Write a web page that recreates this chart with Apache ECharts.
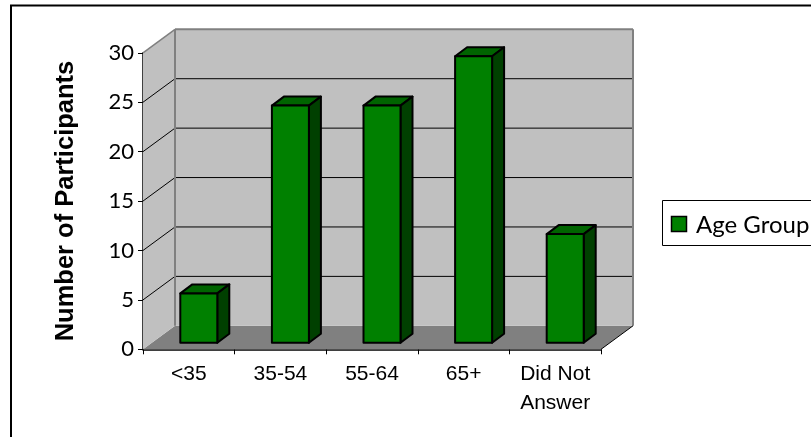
<!DOCTYPE html>
<html><head><meta charset="utf-8">
<style>html,body{margin:0;padding:0;background:#fff}#c{width:811px;height:437px}</style>
<script src="https://cdn.jsdelivr.net/npm/echarts@6/dist/echarts.min.js"></script>
</head><body><div id="c"></div>
<script>
const categories = ['<35','35-54','55-64','65+','Did Not\nAnswer'];
const ageGroup = [5,24,24,29,11];
const yTicks = [0,5,10,15,20,25,30];
const seriesName = 'Age Group';
const yTitle = 'Number of Participants';

const DX=32, DY=-23.5;      // wall depth
const BX=10, BY=-6.5;       // bar front plane offset
const DBX=12, DBY=-9;       // bar depth
const BW=37;

const chart = echarts.init(document.getElementById('c'),null,{renderer:'canvas'});
function poly(pts,fill,stroke,lw){return {type:'polygon',shape:{points:pts},style:{fill:fill,stroke:stroke||null,lineWidth:lw||0,lineJoin:'round'}};}
function line(x1,y1,x2,y2,c,lw){return {type:'line',shape:{x1,y1,x2,y2},style:{stroke:c,lineWidth:lw}};}

function renderWalls(params,api){
  const a=api.coord([0,0]), w=api.size([1,0])[0];
  const x0=a[0]-w/2, x1=x0+w*categories.length, y0=a[1], y1=api.coord([0,30])[1];
  const ch=[];
  ch.push(poly([[x0+DX,y0+DY],[x1+DX,y0+DY],[x1,y0],[x0,y0]],'#808080'));
  ch.push(poly([[x0,y0],[x0+DX,y0+DY],[x0+DX,y1+DY],[x0,y1]],'#c0c0c0'));
  ch.push(poly([[x0+DX,y0+DY],[x1+DX,y0+DY],[x1+DX,y1+DY],[x0+DX,y1+DY]],'#c0c0c0'));
  yTicks.slice(1,-1).forEach(t=>{
    const y=api.coord([0,t])[1];
    ch.push(line(x0,y,x0+DX,y+DY,'#000',1));
    ch.push(line(x0+DX,y+DY,x1+DX,y+DY,'#000',1));
  });
  ch.push(line(x0,y1,x0+DX,y1+DY,'#808080',1.5));
  ch.push(line(x0+DX,y1+DY,x1+DX,y1+DY,'#808080',2));
  ch.push(line(x1+DX,y1+DY,x1+DX,y0+DY,'#808080',2));
  ch.push(line(x0+DX,y1+DY,x0+DX,y0+DY,'#808080',2));
  ch.push(line(x1,y0,x1+DX,y0+DY,'#000',1));
  return {type:'group',children:ch,silent:true};
}
function renderBar(params,api){
  const c=api.coord([api.value(0),api.value(1)]), b=api.coord([api.value(0),0]);
  const l=c[0]+BX-BW/2, r=l+BW, t=c[1]+BY, bt=b[1]+BY;
  const s='#000', lw=2;
  return {type:'group',children:[
    poly([[l,t],[r,t],[r+DBX,t+DBY],[l+DBX,t+DBY]],'#006400',s,lw),
    poly([[r,t],[r+DBX,t+DBY],[r+DBX,bt+DBY],[r,bt]],'#004000',s,lw),
    poly([[l,t],[r,t],[r,bt],[l,bt]],'#008000',s,lw)
  ]};
}
chart.setOption({
  animation:false,
  backgroundColor:'#fff',
  grid:{left:143,right:210,top:52.8,bottom:87.7},
  legend:{show:false},
  xAxis:{type:'category',data:categories,
    axisLine:{lineStyle:{color:'#000',width:1.5}},
    axisTick:{show:true,alignWithLabel:false,length:5,lineStyle:{color:'#000'}},
    axisLabel:{color:'#000',fontFamily:'Liberation Sans',fontSize:21,margin:10,lineHeight:29,interval:0}},
  yAxis:{type:'value',min:0,max:30,interval:5,
    name:yTitle,nameLocation:'middle',nameGap:64,
    nameTextStyle:{color:'#000',fontFamily:'Liberation Sans',fontSize:25.5,fontWeight:'bold'},
    splitLine:{show:false},
    axisLine:{show:true,lineStyle:{color:'#000',width:1.5}},
    axisTick:{show:true,length:5,lineStyle:{color:'#000'}},
    axisLabel:{color:'#000',fontFamily:'Lato',fontSize:22,margin:9}},
  series:[
    {type:'custom',name:'walls',renderItem:renderWalls,data:[[0,0]],z:1,silent:true,clip:false,tooltip:{show:false}},
    {type:'custom',name:seriesName,renderItem:renderBar,z:3,clip:false,
     encode:{x:0,y:1},data:ageGroup.map((v,i)=>[i,v])}
  ],
  graphic:[
    {type:'rect',shape:{x:11,y:5.5,width:810,height:440},style:{fill:null,stroke:'#000',lineWidth:2},z:100,silent:true},
    {type:'rect',shape:{x:662.5,y:200.5,width:160,height:45},style:{fill:'#fff',stroke:'#000',lineWidth:1},z:100,silent:true},
    {type:'rect',shape:{x:671.5,y:216.5,width:15,height:15},style:{fill:'#008000',stroke:'#000',lineWidth:1.5},z:101,silent:true},
    {type:'text',x:696,y:225,style:{text:seriesName,fontFamily:'Lato',fontSize:24,fill:'#000',verticalAlign:'middle'},z:101,silent:true}
  ]
});
</script></body></html>
